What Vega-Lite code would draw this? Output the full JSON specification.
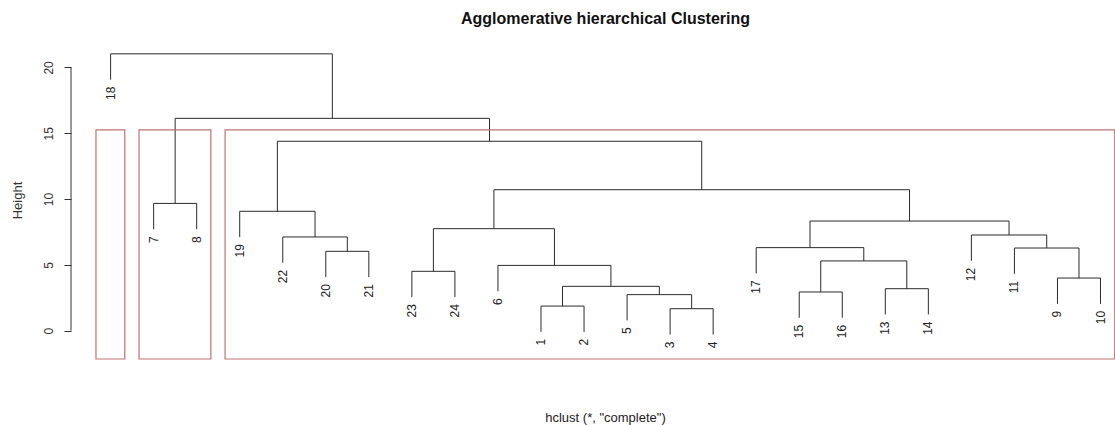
{
  "$schema": "https://vega.github.io/schema/vega-lite/v6.json",
  "width": 1045,
  "height": 317,
  "autosize": {"type": "none"},
  "padding": {"left": 71, "top": 42, "right": 0, "bottom": 66},
  "background": "white",
  "config": {
    "view": {"stroke": null},
    "font": "Liberation Sans"
  },
  "title": {
    "text": "Agglomerative hierarchical Clustering",
    "font": "Liberation Sans",
    "fontSize": 16,
    "fontWeight": "bold",
    "anchor": "middle",
    "dx": 12,
    "offset": 2,
    "baseline": "alphabetic",
    "color": "#111"
  },
  "datasets": {
    "merges": [
      {"id": "A", "xL": 6, "xR": 7, "h": 6.03, "yL": 4.07, "yR": 4.07},
      {"id": "B", "xL": 5, "xR": 6.5, "h": 7.12, "yL": 5.16, "yR": 6.03},
      {"id": "C", "xL": 4, "xR": 5.75, "h": 9.07, "yL": 7.11, "yR": 7.12},
      {"id": "D", "xL": 8, "xR": 9, "h": 4.51, "yL": 2.55, "yR": 2.55},
      {"id": "E", "xL": 11, "xR": 12, "h": 1.87, "yL": -0.09, "yR": -0.09},
      {"id": "F", "xL": 14, "xR": 15, "h": 1.67, "yL": -0.29, "yR": -0.29},
      {"id": "G", "xL": 13, "xR": 14.5, "h": 2.74, "yL": 0.78, "yR": 1.67},
      {"id": "H", "xL": 11.5, "xR": 13.75, "h": 3.37, "yL": 1.87, "yR": 2.74},
      {"id": "I", "xL": 10, "xR": 12.625, "h": 4.96, "yL": 3.0, "yR": 3.37},
      {"id": "J", "xL": 8.5, "xR": 11.3125, "h": 7.75, "yL": 4.51, "yR": 4.96},
      {"id": "K", "xL": 17, "xR": 18, "h": 2.94, "yL": 0.98, "yR": 0.98},
      {"id": "L", "xL": 19, "xR": 20, "h": 3.19, "yL": 1.23, "yR": 1.23},
      {"id": "M", "xL": 17.5, "xR": 19.5, "h": 5.3, "yL": 2.94, "yR": 3.19},
      {"id": "N", "xL": 16, "xR": 18.5, "h": 6.31, "yL": 4.35, "yR": 5.3},
      {"id": "O", "xL": 23, "xR": 24, "h": 4.0, "yL": 2.04, "yR": 2.04},
      {"id": "P", "xL": 22, "xR": 23.5, "h": 6.28, "yL": 4.32, "yR": 4.0},
      {"id": "Q", "xL": 21, "xR": 22.75, "h": 7.27, "yL": 5.31, "yR": 6.28},
      {"id": "R", "xL": 17.25, "xR": 21.875, "h": 8.33, "yL": 6.31, "yR": 7.27},
      {"id": "S", "xL": 9.90625, "xR": 19.5625, "h": 10.71, "yL": 7.75, "yR": 8.33},
      {"id": "T", "xL": 4.875, "xR": 14.734375, "h": 14.39, "yL": 9.07, "yR": 10.71},
      {"id": "U", "xL": 2, "xR": 3, "h": 9.67, "yL": 7.71, "yR": 7.71},
      {"id": "V", "xL": 2.5, "xR": 9.8046875, "h": 16.13, "yL": 9.67, "yR": 14.39},
      {"id": "W", "xL": 1, "xR": 6.15234375, "h": 21.03, "yL": 19.07, "yR": 16.13}
    ],
    "leaves": [
      {"pos": 1, "label": "18", "bottom": 19.07},
      {"pos": 2, "label": "7", "bottom": 7.71},
      {"pos": 3, "label": "8", "bottom": 7.71},
      {"pos": 4, "label": "19", "bottom": 7.11},
      {"pos": 5, "label": "22", "bottom": 5.16},
      {"pos": 6, "label": "20", "bottom": 4.07},
      {"pos": 7, "label": "21", "bottom": 4.07},
      {"pos": 8, "label": "23", "bottom": 2.55},
      {"pos": 9, "label": "24", "bottom": 2.55},
      {"pos": 10, "label": "6", "bottom": 3.0},
      {"pos": 11, "label": "1", "bottom": -0.09},
      {"pos": 12, "label": "2", "bottom": -0.09},
      {"pos": 13, "label": "5", "bottom": 0.78},
      {"pos": 14, "label": "3", "bottom": -0.29},
      {"pos": 15, "label": "4", "bottom": -0.29},
      {"pos": 16, "label": "17", "bottom": 4.35},
      {"pos": 17, "label": "15", "bottom": 0.98},
      {"pos": 18, "label": "16", "bottom": 0.98},
      {"pos": 19, "label": "13", "bottom": 1.23},
      {"pos": 20, "label": "14", "bottom": 1.23},
      {"pos": 21, "label": "12", "bottom": 5.31},
      {"pos": 22, "label": "11", "bottom": 4.32},
      {"pos": 23, "label": "9", "bottom": 2.04},
      {"pos": 24, "label": "10", "bottom": 2.04}
    ],
    "boxes": [
      {"cluster": 1, "x1": 0.66, "x2": 1.33, "y1": -2.15, "y2": 15.26},
      {"cluster": 2, "x1": 1.66, "x2": 3.33, "y1": -2.15, "y2": 15.26},
      {"cluster": 3, "x1": 3.66, "x2": 24.33, "y1": -2.15, "y2": 15.26}
    ]
  },
  "layer": [
    {
      "data": {"name": "merges"},
      "mark": {"type": "rule", "color": "#2b2b2b", "strokeWidth": 1},
      "encoding": {
        "x": {"field": "xL", "type": "quantitative",
              "scale": {"domain": [0.08, 24.36], "nice": false, "zero": false},
              "axis": {"domain": false, "ticks": false, "labels": false, "grid": false,
                       "title": "hclust (*, \"complete\")", "titleFont": "Liberation Sans",
                       "titleFontSize": 13, "titleFontWeight": "normal", "titleColor": "#222",
                       "titleX": 534, "titleY": 62, "titleBaseline": "alphabetic", "titleAlign": "center"}},
        "x2": {"field": "xR"},
        "y": {"field": "h", "type": "quantitative",
              "scale": {"domain": [-2.15, 21.93], "nice": false, "zero": false},
              "axis": {"values": [0, 5, 10, 15, 20], "domain": false, "grid": false,
                       "tickSize": 7, "tickColor": "#333", "labelAngle": 270,
                       "labelAlign": "center", "labelBaseline": "bottom", "labelPadding": 9,
                       "labelFont": "Liberation Sans", "labelFontSize": 12, "labelColor": "#333",
                       "title": "Height", "titleFont": "Liberation Sans", "titleFontSize": 13,
                       "titleFontWeight": "normal", "titleColor": "#333",
                       "titleX": -54, "titleY": 158, "titleAlign": "center", "titleBaseline": "middle", "titleAngle": 270}}
      }
    },
    {
      "data": {"name": "merges"},
      "mark": {"type": "rule", "color": "#2b2b2b", "strokeWidth": 1},
      "encoding": {
        "x": {"field": "xL", "type": "quantitative", "scale": {"domain": [0.08, 24.36], "nice": false, "zero": false}, "title": "hclust (*, \"complete\")"},
        "y": {"field": "yL", "type": "quantitative", "scale": {"domain": [-2.15, 21.93], "nice": false, "zero": false}, "title": "Height"},
        "y2": {"field": "h"}
      }
    },
    {
      "data": {"name": "merges"},
      "mark": {"type": "rule", "color": "#2b2b2b", "strokeWidth": 1},
      "encoding": {
        "x": {"field": "xR", "type": "quantitative", "scale": {"domain": [0.08, 24.36], "nice": false, "zero": false}, "title": "hclust (*, \"complete\")"},
        "y": {"field": "yR", "type": "quantitative", "scale": {"domain": [-2.15, 21.93], "nice": false, "zero": false}, "title": "Height"},
        "y2": {"field": "h"}
      }
    },
    {
      "data": {"name": "leaves"},
      "mark": {"type": "text", "angle": 270, "align": "right", "baseline": "middle", "dx": -7,
               "font": "Liberation Sans", "fontSize": 12, "color": "#222"},
      "encoding": {
        "x": {"field": "pos", "type": "quantitative", "scale": {"domain": [0.08, 24.36], "nice": false, "zero": false}, "title": "hclust (*, \"complete\")"},
        "y": {"field": "bottom", "type": "quantitative", "scale": {"domain": [-2.15, 21.93], "nice": false, "zero": false}, "title": "Height"},
        "text": {"field": "label"}
      }
    },
    {
      "data": {"name": "boxes"},
      "mark": {"type": "rect", "fill": null, "fillOpacity": 0, "stroke": "#c27272", "strokeWidth": 1.2},
      "encoding": {
        "x": {"field": "x1", "type": "quantitative", "scale": {"domain": [0.08, 24.36], "nice": false, "zero": false}, "title": "hclust (*, \"complete\")"},
        "x2": {"field": "x2"},
        "y": {"field": "y1", "type": "quantitative", "scale": {"domain": [-2.15, 21.93], "nice": false, "zero": false}, "title": "Height"},
        "y2": {"field": "y2"}
      }
    },
    {
      "data": {"values": [{"from": 0, "to": 20, "at": 0.08}]},
      "mark": {"type": "rule", "color": "#333", "strokeWidth": 1},
      "encoding": {
        "x": {"field": "at", "type": "quantitative", "scale": {"domain": [0.08, 24.36], "nice": false, "zero": false}, "title": "hclust (*, \"complete\")"},
        "y": {"field": "from", "type": "quantitative", "scale": {"domain": [-2.15, 21.93], "nice": false, "zero": false}, "title": "Height"},
        "y2": {"field": "to"}
      }
    }
  ]
}
